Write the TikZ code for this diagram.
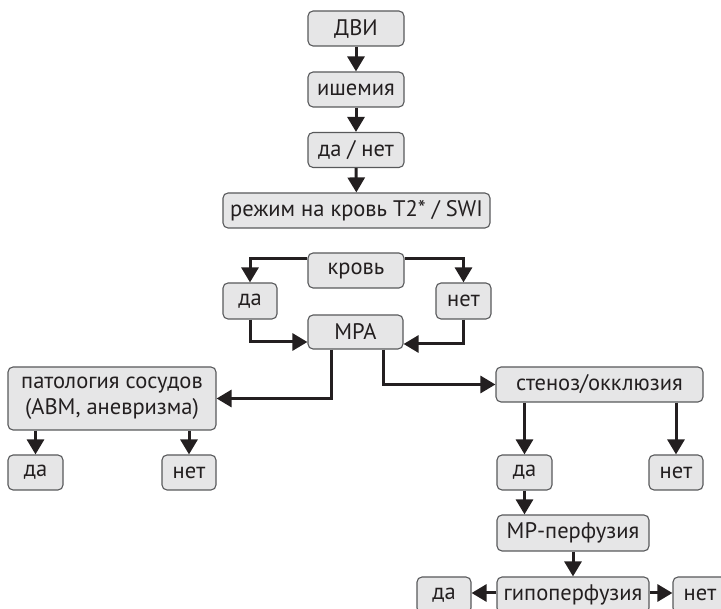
\documentclass[tikz,border=0pt]{standalone}
\usepackage{fontspec}
\setmainfont{PT Sans}
\usetikzlibrary{arrows.meta,calc}
\definecolor{boxfill}{HTML}{E6E6E7}
\definecolor{boxline}{HTML}{58595B}
\definecolor{ink}{HTML}{231F20}
\begin{document}
\begin{tikzpicture}[x=1pt,y=-1pt,
  box/.style={draw=boxline,fill=boxfill,line width=1.1pt,rounded corners=5pt,
    inner sep=0pt,font=\fontsize{22.5}{26}\selectfont,text=ink,align=center},
  arr/.style={draw=ink,line width=3pt,-{Triangle[length=15pt,width=17pt]}}]
\useasboundingbox (0,0) rectangle (721,609);
\node[box,minimum width=96pt,minimum height=35pt] (dvi) at (356,28.5) {ДВИ};
\node[box,minimum width=96pt,minimum height=35pt] (ish) at (356,89.5) {ишемия};
\node[box,minimum width=96pt,minimum height=35pt] (danet) at (356,150) {да / нет};
\node[box,minimum width=267pt,minimum height=35pt] (rez) at (356.5,210.5) {режим на кровь T2* / SWI};
\node[box,minimum width=96pt,minimum height=35pt] (krov) at (356,270.5) {кровь};
\node[box,minimum width=54pt,minimum height=36pt] (daL) at (250,301) {да};
\node[box,minimum width=55pt,minimum height=36pt] (netR) at (463.5,301) {нет};
\node[box,minimum width=95pt,minimum height=34pt] (mra) at (355.5,332) {МРА};
\node[box,minimum width=208pt,minimum height=63pt] (pat) at (112,398.5) {патология сосудов\\(АВМ, аневризма)};
\node[box,minimum width=55pt,minimum height=35pt] (da1) at (35.5,472.5) {да};
\node[box,minimum width=54pt,minimum height=35pt] (net1) at (189,472.5) {нет};
\node[box,minimum width=207pt,minimum height=35pt] (sten) at (599.5,384.5) {стеноз/окклюзия};
\node[box,minimum width=55pt,minimum height=35pt] (da2) at (524.5,472.5) {да};
\node[box,minimum width=54pt,minimum height=35pt] (net2) at (676,472.5) {нет};
\node[box,minimum width=152pt,minimum height=36pt] (mrp) at (573,533) {МР-перфузия};
\node[box,minimum width=152pt,minimum height=36pt] (hypo) at (573,595) {гипоперфузия};
\node[box,minimum width=54pt,minimum height=36pt] (da3) at (444,595) {да};
\node[box,minimum width=54pt,minimum height=36pt] (net3) at (700,595) {нет};
\draw[arr] (dvi) -- (ish);
\draw[arr] (ish) -- (danet);
\draw[arr] (danet) -- (rez);
\draw[arr] ([yshift=11.5pt]krov.west) -| (daL.north);
\draw[arr] ([yshift=11.5pt]krov.east) -| (netR.north);
\draw[arr] (daL.south) |- ([yshift=-10pt]mra.west);
\draw[arr] (netR.south) |- ([yshift=-12pt]mra.east);
\draw[arr] ([xshift=-24.5pt]mra.south) |- (pat.east);
\draw[arr] ([xshift=27.5pt]mra.south) |- (sten.west);
\draw[arr] (da1.north |- pat.south) -- (da1.north);
\draw[arr] (net1.north |- pat.south) -- (net1.north);
\draw[arr] (da2.north |- sten.south) -- (da2.north);
\draw[arr] (net2.north |- sten.south) -- (net2.north);
\draw[arr] (da2.south) -- (da2.south |- mrp.north);
\draw[arr] (mrp) -- (hypo);
\draw[arr] ([yshift=2pt]hypo.west) -- ([yshift=2pt]da3.east);
\draw[arr] ([yshift=2pt]hypo.east) -- ([yshift=2pt]net3.west);
\end{tikzpicture}
\end{document}
